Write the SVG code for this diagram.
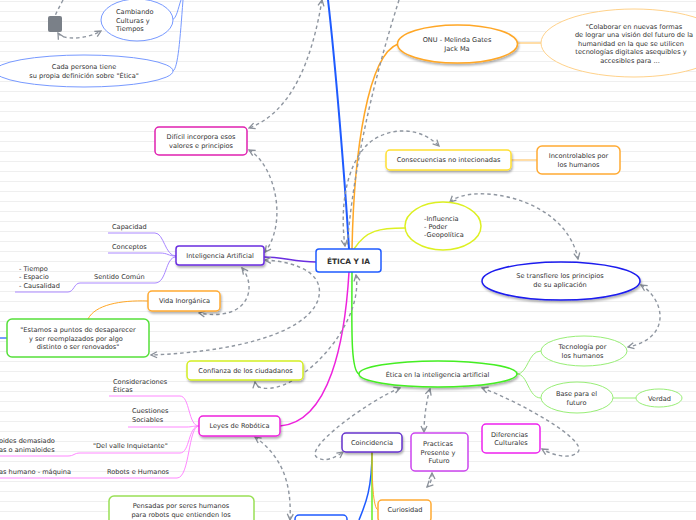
<svg xmlns="http://www.w3.org/2000/svg" width="696" height="520" viewBox="0 0 696 520">
<defs>
<pattern id="lines" x="0" y="0" width="696" height="10" patternUnits="userSpaceOnUse">
<rect x="0" y="0" width="696" height="10" fill="#ffffff"/>
<line x1="0" y1="1.5" x2="696" y2="1.5" stroke="#efefef" stroke-width="1"/>
</pattern>
<marker id="arr" viewBox="0 0 8 8" refX="7" refY="4" markerWidth="8" markerHeight="8" markerUnits="userSpaceOnUse" orient="auto-start-reverse">
<path d="M1,1 L7,4 L1,7" fill="none" stroke="#8a9099" stroke-width="1.3"/>
</marker>
<filter id="sh" x="-20%" y="-30%" width="140%" height="170%">
<feDropShadow dx="1" dy="2" stdDeviation="1" flood-color="#000" flood-opacity="0.3"/>
</filter>
</defs>
<style>
text{font-family:"DejaVu Sans","Verdana",sans-serif;font-size:6.6px;fill:#333}
.c{text-anchor:middle}
.b{fill:#fff;stroke-width:1.5}
.n{fill:none}
.d{fill:none;stroke:#8f96a0;stroke-width:1.4;stroke-dasharray:3.5 3;marker-start:url(#arr);marker-end:url(#arr)}
.d1{fill:none;stroke:#8f96a0;stroke-width:1.4;stroke-dasharray:3.5 3}
</style>
<rect width="696" height="520" fill="url(#lines)"/>

<g id="connectors">
<path class="n" d="M349,249 C345,180 335,60 328,0" stroke="#1f5bff" stroke-width="2"/>
<path class="n" d="M352,249 C354,150 368,55 398,44" stroke="#ffa726" stroke-width="1.5"/>
<path class="n" d="M316,262 C295,262 282,257 264,257" stroke="#6a2ee0" stroke-width="1.5"/>
<path class="n" d="M354,249 C366,230 380,228 405,228" stroke="#ddf022" stroke-width="1.5"/>
<path class="n" d="M352,272 C352,320 350,370 359,374" stroke="#44ee22" stroke-width="1.5"/>
<path class="n" d="M349,272 C345,340 330,422 280,426" stroke="#ee22dd" stroke-width="1.5"/>
<path class="n" d="M517,43 L541,43" stroke="#ffd28a" stroke-width="1.5"/>
<path class="n" d="M511,160 L537,160" stroke="#ffd28a" stroke-width="1.5"/>
<path class="n" d="M517,374 C528,374 528,351 541,351 M517,374 C528,374 528,398 541,398 M613,398 L636,398" stroke="#99ee77" stroke-width="1"/>
<path class="n" d="M172,20 C177,18 178,8 181,0 M173,71 C178,68 180,40 183,0" stroke="#7799ff" stroke-width="1"/>
<path class="n" d="M0,338 L7,338" stroke="#1f5bff" stroke-width="1.2"/>
<path class="n" d="M88,319 C95,305 120,300 148,301" stroke="#ffa726" stroke-width="1"/>
<path class="n" d="M176,256 C165,256 164,233 155,233 L108,233 M176,256 C168,256 168,253 160,253 L108,253 M176,257 C165,257 167,283 155,283 L80,283 C74,283 74,292 68,292 L15,292" stroke="#aa88ff" stroke-width="1"/>
<path class="n" d="M199,426 C188,426 190,396 180,396 L109,396 M199,426 C192,426 192,427 187,427 L128,427 M199,426 C188,426 190,453 180,453 L80,453 C74,453 74,456 68,456 L0,456 M199,426 C188,426 190,478 177,478 L0,478" stroke="#ff88ff" stroke-width="1"/>
<path class="n" d="M372,452 C372,490 365,505 359,520" stroke="#1f5bff" stroke-width="1.5"/>
<path class="n" d="M372,452 L372,520" stroke="#66ee22" stroke-width="1.5"/>
<path class="n" d="M372,452 C372,480 373,508 378,510" stroke="#ffa726" stroke-width="1"/>

<path class="d" d="M345,246 C340,210 345,170 365,147 C380,130 415,122 439,146"/>
<path class="d1" d="M399,0 C380,60 355,150 347,247"/>
<path class="d" d="M322,0 C312,60 292,112 249,128"/>
<path class="d" d="M249,150 C275,165 288,222 265,252"/>
<path class="d" d="M242,268 C258,288 248,322 199,313"/>
<path class="d" d="M265,260 C300,262 326,275 318,300 C305,335 230,352 151,355"/>
<path class="d" d="M356,275 C362,310 330,360 290,382 C270,392 256,389 255,382"/>
<path class="d" d="M450,202 C470,183 565,195 578,259"/>
<path class="d" d="M641,285 C665,300 672,338 628,347"/>
<path class="d" d="M400,388 C370,400 300,450 318,458 C325,462 335,458 343,452"/>
<path class="d" d="M430,389 C426,402 424,420 424,432"/>
<path class="d" d="M482,388 C520,402 588,440 578,452 C570,460 552,455 542,449"/>
<path class="d" d="M432,473 C432,480 430,484 427,487"/>
<path class="d" d="M255,437 C280,455 292,480 290,520"/>
<path class="d1" d="M63,0 C60,6 57,11 55,16"/>
<path class="d" d="M58,33 C62,40 85,40 101,31"/>
</g>

<g id="gray-marker"><rect x="48" y="16" width="14" height="16" rx="2" fill="#7a8088"/></g>

<g id="n-cambiando"><ellipse cx="137" cy="20" rx="36" ry="21" fill="#fff" stroke="#7799ff" stroke-width="1"/><text x="116" y="14">Cambiando</text><text x="116" y="22.5">Culturas y</text><text x="116" y="31">Tiempos</text></g>
<g id="n-cada"><ellipse cx="84" cy="71" rx="89" ry="16" fill="#fff" stroke="#7799ff" stroke-width="1"/><text class="c" x="84" y="69">Cada persona tiene</text><text class="c" x="84" y="77.5">su propia definición sobre "Ética"</text></g>

<g id="n-onu"><ellipse cx="457.5" cy="44" rx="60" ry="19" fill="#fff" stroke="#ffa726" stroke-width="1.5" filter="url(#sh)"/><text class="c" x="457" y="42">ONU - Melinda Gates</text><text class="c" x="457" y="51">Jack Ma</text></g>
<g id="n-quote"><ellipse cx="634" cy="43" rx="93" ry="34" fill="#fff" stroke="#ffd28a" stroke-width="1"/>
<text class="c" x="634" y="28.5">"Colaborar en nuevas formas</text><text class="c" x="634" y="37">de lograr una visión del futuro de la</text><text class="c" x="631" y="45.5">humanidad en la que se utilicen</text><text class="c" x="631" y="54">tecnologías digitales asequibles y</text><text class="c" x="630" y="62.5">accesibles para ...</text></g>

<g id="n-dificil"><rect class="b" x="155" y="127" width="92" height="28" rx="4" stroke="#e020b0"/><text class="c" x="201" y="139">Difícil incorpora esos</text><text class="c" x="201" y="147.5">valores e principios</text></g>

<g id="n-consecuencias"><rect class="b" x="386" y="150" width="125" height="20" rx="4" stroke="#ffe033" filter="url(#sh)"/><text class="c" x="448.5" y="162">Consecuencias no intecionadas</text></g>
<g id="n-incontrolables"><rect class="b" x="537" y="146" width="83" height="28" rx="5" stroke="#ffaa33"/><text class="c" x="578.5" y="158">Incontrolables por</text><text class="c" x="578.5" y="166.5">los humanos</text></g>

<g id="n-influencia"><ellipse cx="443" cy="226" rx="38" ry="24" fill="#fff" stroke="#ddf022" stroke-width="1.5"/><text x="424" y="221">-Influencia</text><text x="424" y="229">- Poder</text><text x="424" y="237">-Geopolítica</text></g>

<g id="n-transfiere"><ellipse cx="561" cy="281" rx="79" ry="19" fill="#fff" stroke="#1a1aee" stroke-width="1.5" filter="url(#sh)"/><text class="c" x="560" y="278">Se transfiere los principios</text><text class="c" x="560" y="287">de su aplicación</text></g>

<g id="n-inteligencia"><rect class="b" x="176" y="246" width="88" height="19" rx="3" stroke="#6a2ee0" filter="url(#sh)"/><text class="c" x="220" y="258">Inteligencia Artificial</text></g>
<g id="n-capacidad"><text x="112" y="229">Capacidad</text></g>
<g id="n-conceptos"><text x="112" y="249">Conceptos</text></g>
<g id="n-sentido"><text x="94" y="279">Sentido Común</text></g>
<g id="n-tiempo"><text x="19" y="270.5">- Tiempo</text><text x="19" y="279">- Espacio</text><text x="19" y="287.5">- Causalidad</text></g>

<g id="n-central"><rect class="b" x="316" y="249" width="65" height="23" rx="3" stroke="#1f5bff" stroke-width="2"/><text class="c" x="348.5" y="264" style="font-weight:bold;font-size:7.4px">ÉTICA Y IA</text></g>

<g id="n-vida"><rect class="b" x="148" y="291" width="72" height="20" rx="4" stroke="#ffaa33" filter="url(#sh)"/><text class="c" x="184.5" y="303">Vida Inorgánica</text></g>
<g id="n-estamos"><rect class="b" x="7" y="319" width="142" height="38" rx="5" stroke="#55e03a" stroke-width="1.8"/><text class="c" x="78" y="332">"Estamos a puntos de desaparecer</text><text class="c" x="76" y="340.5">y ser reemplazados por algo</text><text class="c" x="78" y="349">distinto o ser renovados"</text></g>

<g id="n-confianza"><rect class="b" x="187" y="361" width="116" height="19" rx="4" stroke="#d4ee22" filter="url(#sh)"/><text class="c" x="245.5" y="373">Confianza de los ciudadanos</text></g>

<g id="n-etica-ia"><ellipse cx="438" cy="374" rx="79" ry="13" fill="#fff" stroke="#44ee22" stroke-width="1.5" filter="url(#sh)"/><text class="c" x="437.5" y="376.5">Ética en la inteligencia artificial</text></g>
<g id="n-tecnologia"><ellipse cx="584" cy="351" rx="43" ry="15" fill="#fff" stroke="#99ee77" stroke-width="1"/><text class="c" x="582.5" y="349">Tecnología por</text><text class="c" x="582.5" y="357.5">los humanos</text></g>
<g id="n-base"><ellipse cx="577" cy="397.5" rx="36" ry="15.5" fill="#fff" stroke="#99ee77" stroke-width="1"/><text class="c" x="576.5" y="396">Base para el</text><text class="c" x="576.5" y="404.5">futuro</text></g>
<g id="n-verdad"><ellipse cx="659" cy="398" rx="23" ry="9" fill="#fff" stroke="#99ee77" stroke-width="1"/><text class="c" x="659.5" y="400.5">Verdad</text></g>

<g id="n-leyes"><rect class="b" x="199" y="416" width="81" height="20" rx="4" stroke="#ee22dd" filter="url(#sh)"/><text class="c" x="239.5" y="428">Leyes de Robótica</text></g>
<g id="n-consideraciones"><text x="113" y="383.5">Consideraciones</text><text x="113" y="392">Éticas</text></g>
<g id="n-cuestiones"><text x="132" y="413">Cuestiones</text><text x="132" y="421.5">Sociables</text></g>
<g id="n-valle"><text x="93" y="447.5">"Del valle Inquietante"</text></g>
<g id="n-humanoides"><text x="-1" y="443">oides demasiado</text><text x="-1" y="451.5">as o animaloides</text></g>
<g id="n-robots"><text x="107" y="473.5">Robots e Humanos</text></g>
<g id="n-interfaces"><text x="-1" y="473.5">as humano - máquina</text></g>

<g id="n-coincidencia"><rect class="b" x="342" y="433" width="60" height="19" rx="4" stroke="#6633cc" filter="url(#sh)"/><text class="c" x="372" y="445">Coincidencia</text></g>
<g id="n-practicas"><rect class="b" x="411" y="433" width="57" height="38" rx="4" stroke="#cc44ee"/><text class="c" x="438" y="446">Practicas</text><text class="c" x="438" y="454.5">Presente y</text><text class="c" x="439" y="463">Futuro</text></g>
<g id="n-diferencias"><rect class="b" x="482" y="424" width="58" height="29" rx="4" stroke="#ee22ee"/><text class="c" x="509.5" y="436.5">Diferencias</text><text class="c" x="511" y="445">Culturales</text></g>
<g id="n-curiosidad"><rect class="b" x="378" y="500" width="53" height="22" rx="4" stroke="#ffaa33"/><text class="c" x="405" y="512">Curiosidad</text></g>
<g id="n-blue-bottom"><rect class="b" x="295" y="515" width="52" height="15" rx="4" stroke="#1f5bff"/></g>
<g id="n-pensadas"><rect class="b" x="109" y="496" width="145" height="34" rx="5" stroke="#99e055"/><text class="c" x="181" y="508">Pensadas por seres humanos</text><text class="c" x="181" y="517">para robots que entienden los</text></g>
</svg>
